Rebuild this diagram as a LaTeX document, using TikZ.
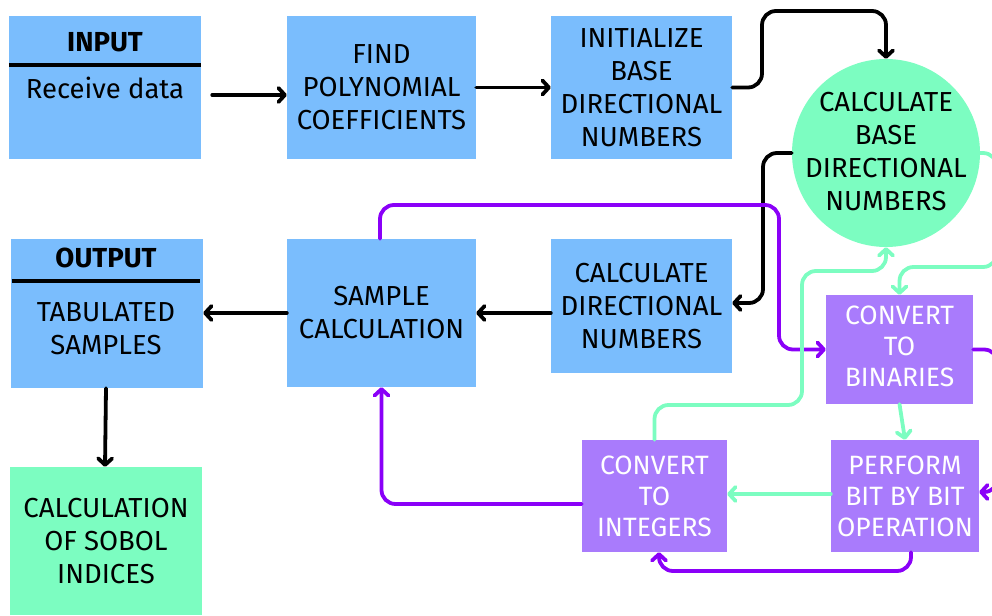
\documentclass[tikz,border=0pt]{standalone}
\usepackage{fontspec}
\setmainfont{Fira Sans}
\usetikzlibrary{arrows.meta}
\definecolor{boxblue}{HTML}{7ABDFD}
\definecolor{boxgreen}{HTML}{7CFDC1}
\definecolor{boxpurple}{HTML}{A97BFC}
\definecolor{linepurple}{HTML}{8A00F8}
\definecolor{linegreen}{HTML}{7CFDC1}
\tikzset{
  box/.style={rectangle, inner sep=0pt, align=center, font=\fontsize{27.5}{33}\selectfont},
  bluebox/.style={box, fill=boxblue, text=black},
  greenbox/.style={box, fill=boxgreen, text=black},
  purplebox/.style={box, fill=boxpurple, text=white, font=\fontsize{26.5}{31}\selectfont},
  lbl/.style={inner sep=0pt, align=center, font=\fontsize{27.5}{33}\selectfont},
  tip/.style={-{Straight Barb[round,length=6.5pt,width=14pt]}},
  con/.style={line width=3.8pt, rounded corners=14pt, line cap=round},
  blk/.style={con, draw=black},
  prp/.style={con, draw=linepurple},
  grn/.style={con, draw=linegreen},
}
\begin{document}
\begin{tikzpicture}[x=1pt,y=-1pt]
\useasboundingbox (0,0) rectangle (992,615);
\clip (0,0) rectangle (992,615);
% boxes
\node[bluebox, minimum width=192pt, minimum height=143pt] (input) at (105,87.5) {};
\node[lbl, font=\fontsize{27.5}{33}\selectfont\bfseries] (inputtitle) at (105,42) {INPUT};
\node[lbl] (inputtext) at (105,88) {Receive data};
\node[bluebox, minimum width=189pt, minimum height=143pt] (find) at (381.5,87.5) {FIND\\POLYNOMIAL\\COEFFICIENTS};
\node[bluebox, minimum width=181pt, minimum height=143pt] (init) at (641.5,87.5) {INITIALIZE\\BASE\\DIRECTIONAL\\NUMBERS};
\node[greenbox, circle, minimum size=188pt] (circ) at (886,153) {};
\node[lbl] (circtext) at (886,152) {CALCULATE\\BASE\\DIRECTIONAL\\NUMBERS};
\node[bluebox, minimum width=192pt, minimum height=149pt] (output) at (107,313.5) {};
\node[lbl, font=\fontsize{27.5}{33}\selectfont\bfseries] (outputtitle) at (106,258) {OUTPUT};
\node[lbl] (outputtext) at (106,329) {TABULATED\\SAMPLES};
\node[bluebox, minimum width=189pt, minimum height=148pt] (sample) at (381.5,313) {SAMPLE\\CALCULATION};
\node[bluebox, minimum width=181pt, minimum height=134pt] (calcdir) at (641.5,306) {CALCULATE\\DIRECTIONAL\\NUMBERS};
\node[greenbox, minimum width=192pt, minimum height=148pt] (sobol) at (106,541) {CALCULATION\\OF SOBOL\\INDICES};
\node[purplebox, minimum width=147pt, minimum height=109pt] (bin) at (899.5,349.5) {CONVERT\\TO\\BINARIES\rule[-6pt]{0pt}{1pt}};
\node[purplebox, minimum width=148pt, minimum height=112pt] (perf) at (905,496) {PERFORM\\BIT BY BIT\\OPERATION};
\node[purplebox, minimum width=145pt, minimum height=112pt] (int) at (654.5,496) {CONVERT\\TO\\INTEGERS};
% header rules
\draw[line width=3.5pt] (input.west |- 0,65) -- (input.east |- 0,65);
\draw[line width=3.5pt] ([xshift=1pt]output.west |- 0,281) -- ([xshift=-3pt]output.east |- 0,281);
% black connectors
\draw[blk, tip] ([xshift=11pt]input.east |- 0,95) -- (find.west |- 0,95);
\draw[blk, tip] (find.east) -- (init.west);
\draw[blk, tip] (init.east) -- (762,87.5) -- (762,11) -- (886,11) -- (circ.north);
\draw[blk, tip] (circ.west) -- (763,153) -- (763,303) -- ([yshift=3pt]calcdir.east);
\draw[blk, tip] (calcdir.west |- 0,313) -- (sample.east |- 0,313);
\draw[blk, tip] (sample.west) -- (output.east |- 0,313);
\draw[blk, tip] ([xshift=-1pt]output.south) -- ([xshift=-1pt]sobol.north);
% purple connectors
\draw[prp, tip] ([xshift=-1.5pt]sample.north) -- (380,205) -- (779,205) -- (779,349.5) -- (bin.west);
\draw[prp, tip] (bin.east) -- (998,349.5) -- (998,492) -- ([yshift=4pt]perf.east);
\draw[prp, tip] ([xshift=6pt]perf.south) -- (911,571) -- (659,571) -- ([xshift=4.5pt]int.south);
\draw[prp, tip] ([yshift=-8pt]int.west) -- (381.5,504) -- (sample.south);
% green connectors
\draw[grn, tip] ([yshift=2pt]perf.west) -- ([yshift=2pt]int.east);
\draw[grn, tip] (bin.south) -- (perf.north);
\draw[grn, tip] (int.north) -- (654.5,405) -- (802,405) -- (802,271) -- (886,271) -- (circ.south);
\draw[grn, tip] (circ.east) -- (997,153) -- (997,267) -- (899.5,267) -- (bin.north);
\end{tikzpicture}
\end{document}
